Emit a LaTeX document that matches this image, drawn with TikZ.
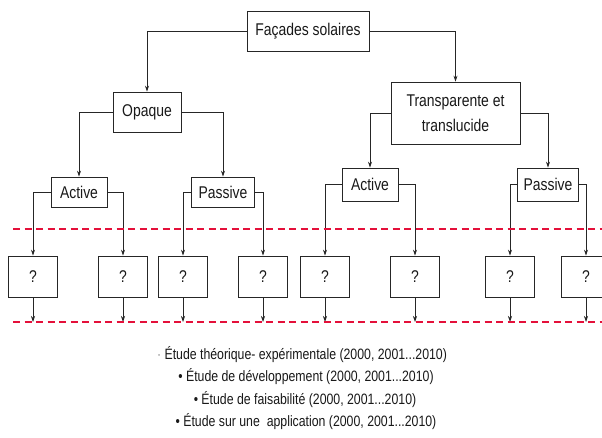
\documentclass[tikz,border=0pt]{standalone}
\usepackage{fontspec}
\setmainfont{Liberation Sans}[FakeStretch=0.82]
\usetikzlibrary{arrows.meta}
\definecolor{dashred}{RGB}{228,16,58}
\begin{document}
\begin{tikzpicture}[x=1pt,y=-1pt,
  box/.style={draw=black!85, line width=0.8pt, inner sep=0pt, align=center,
    font=\fontsize{17}{25}\selectfont, text=black!90},
  qbox/.style={box, minimum width=49pt, minimum height=41pt},
  conn/.style={draw=black!85, line width=0.7pt, -{Stealth[length=6pt,width=4pt]}},
  reddash/.style={draw=dashred, line width=1.8pt, dash pattern=on 7pt off 4.5pt},
  note/.style={font=\fontsize{15}{18}\selectfont, text=black!90, inner sep=0pt}]
\useasboundingbox (0,0) rectangle (602,438);
\fill[white] (0,0) rectangle (602,438);
\clip (0,0) rectangle (602,438);

% top levels
\node[box, minimum width=122pt, minimum height=40pt] (fs) at (308,31) {Façades solaires};
\node[box, minimum width=68pt, minimum height=40pt] (op) at (147,112) {Opaque};
\node[box, minimum width=129pt, minimum height=62pt] (tr) at (455.5,113) {Transparente et\\translucide};
\node[box, minimum width=56pt, minimum height=30pt] (a1) at (79,192) {Active};
\node[box, minimum width=63pt, minimum height=30pt] (p1) at (223,192) {Passive};
\node[box, minimum width=56pt, minimum height=33pt] (a2) at (370,184.5) {Active};
\node[box, minimum width=61pt, minimum height=33pt] (p2) at (548,184.5) {Passive};

% question boxes
\node[qbox] (q1) at (33,276.5) {?};
\node[qbox] (q2) at (123,276.5) {?};
\node[qbox] (q3) at (183,276.5) {?};
\node[qbox] (q4) at (263,276.5) {?};
\node[qbox] (q5) at (325,276.5) {?};
\node[qbox] (q6) at (415,276.5) {?};
\node[qbox] (q7) at (510,276.5) {?};
\node[qbox] (q8) at (586,276.5) {?};

% connectors
\draw[conn] (fs.west) -| (op.north);
\draw[conn] (fs.east) -| (tr.north);
\draw[conn] (op.west) -| (a1.north);
\draw[conn] (op.east) -| (p1.north);
\draw[conn] (tr.west) -| (a2.north);
\draw[conn] (tr.east) -| (p2.north);
\draw[conn] (a1.west) -| (q1.north);
\draw[conn] (a1.east) -| (q2.north);
\draw[conn] (p1.west) -| (q3.north);
\draw[conn] (p1.east) -| (q4.north);
\draw[conn] (a2.west) -| (q5.north);
\draw[conn] (a2.east) -| (q6.north);
\draw[conn] (p2.west) -| (q7.north);
\draw[conn] (p2.east) -| (q8.north);

\coordinate (bl) at (0,322);
\foreach \i in {1,...,8}{
  \draw[conn] (q\i.south) -- (q\i.south |- bl);
}

% red dashed lines
\coordinate (ra1) at (13,229);
\coordinate (ra2) at (602,229);
\coordinate (rb1) at (13,322);
\coordinate (rb2) at (602,322);
\draw[reddash] (ra1) -- (ra2);
\draw[reddash] (rb1) -- (rb2);

% notes
\node[note] (t1) at (302,355) {{\color{black!45}·} Étude théorique- expérimentale (2000, 2001...2010)};
\node[note] (t2) at (306,377) {• Étude de développement (2000, 2001...2010)};
\node[note] (t3) at (305,400) {• Étude de faisabilité (2000, 2001...2010)};
\node[note] (t4) at (306,422) {• Étude sur une\ \ application (2000, 2001...2010)};
\end{tikzpicture}
\end{document}
